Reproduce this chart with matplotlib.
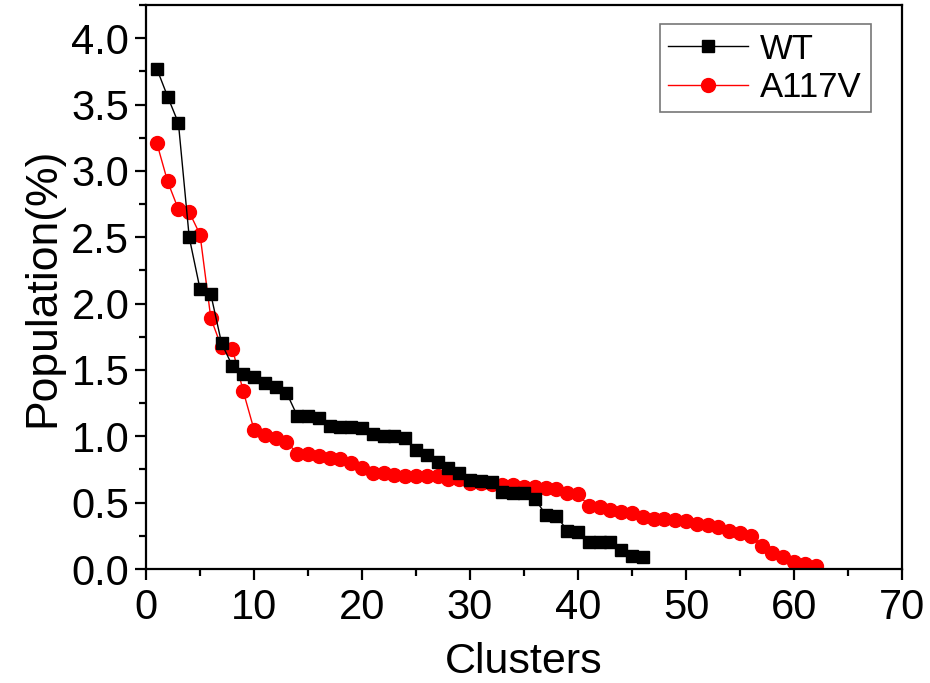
import matplotlib
matplotlib.use("Agg")
import matplotlib.pyplot as plt
from matplotlib.ticker import MultipleLocator

plt.rcParams['font.family'] = ['Liberation Sans', 'DejaVu Sans']

wt_x = list(range(1, 47))
wt_y = [3.77, 3.56, 3.36, 2.50, 2.11, 2.07, 1.70, 1.53, 1.47, 1.45,
        1.40, 1.37, 1.33, 1.155, 1.15, 1.14, 1.08, 1.07, 1.07, 1.06,
        1.02, 1.00, 1.00, 0.99, 0.90, 0.86, 0.81, 0.76, 0.725, 0.67,
        0.66, 0.655, 0.58, 0.575, 0.575, 0.53, 0.41, 0.40, 0.29, 0.28,
        0.20, 0.20, 0.20, 0.14, 0.10, 0.09]

mut_x = list(range(1, 63))
mut_y = [3.21, 2.92, 2.71, 2.69, 2.52, 1.89, 1.67, 1.66, 1.34, 1.05,
         1.01, 0.99, 0.96, 0.87, 0.865, 0.85, 0.84, 0.83, 0.80, 0.76,
         0.725, 0.725, 0.71, 0.70, 0.70, 0.70, 0.70, 0.68, 0.68, 0.65,
         0.645, 0.64, 0.63, 0.63, 0.62, 0.62, 0.61, 0.60, 0.575, 0.565,
         0.475, 0.465, 0.445, 0.43, 0.425, 0.39, 0.375, 0.375, 0.37, 0.365,
         0.34, 0.33, 0.32, 0.29, 0.275, 0.25, 0.17, 0.12, 0.09, 0.055,
         0.04, 0.02]

fig = plt.figure(figsize=(9.30, 6.83), dpi=100)
ax = fig.add_axes([0.157, 0.1669, 0.813, 0.8258])

ax.plot(wt_x, wt_y, color='black', lw=1.0, marker='s', ms=8.5,
        markeredgecolor='black', markerfacecolor='black', label='WT', zorder=3)
ax.plot(mut_x, mut_y, color='red', lw=1.0, marker='o', ms=10,
        markeredgecolor='red', markerfacecolor='red', label='A117V', zorder=2)

ax.set_xlim(0, 70)
ax.set_ylim(0, 4.25)
ax.xaxis.set_major_locator(MultipleLocator(10))
ax.xaxis.set_minor_locator(MultipleLocator(5))
ax.yaxis.set_major_locator(MultipleLocator(0.5))
ax.yaxis.set_minor_locator(MultipleLocator(0.25))
ax.yaxis.set_major_formatter(matplotlib.ticker.FormatStrFormatter('%.1f'))

for s in ax.spines.values():
    s.set_linewidth(1.6)
ax.tick_params(which='major', direction='out', length=8, width=1.6,
               labelsize=30, top=False, right=False)
ax.tick_params(axis='x', which='major', pad=6)
ax.tick_params(axis='y', which='major', pad=4)
ax.tick_params(which='minor', direction='out', length=5, width=1.6,
               top=False, right=False)

ax.set_xlabel('Clusters', fontsize=31, labelpad=10)
ax.set_ylabel('Population(%)', fontsize=32, labelpad=6)

leg = ax.legend(loc='upper right', bbox_to_anchor=(0.972, 0.985), fontsize=25,
                frameon=True, fancybox=False, edgecolor='#555555',
                handlelength=2.3, borderpad=0.25, labelspacing=0.15,
                handletextpad=0.35, borderaxespad=0.3)
leg.get_frame().set_linewidth(1.2)

fig.savefig('out.png', dpi=100)
